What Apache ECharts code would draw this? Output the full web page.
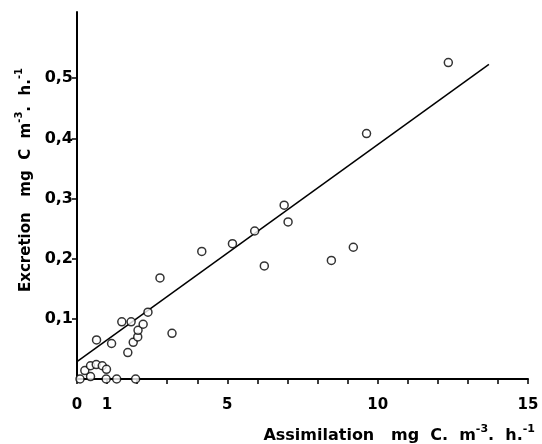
<!DOCTYPE html>
<html>
<head>
<meta charset="utf-8">
<script src="https://cdn.jsdelivr.net/npm/echarts@6/dist/echarts.min.js"></script>
<style>
  html, body { margin: 0; padding: 0; background: #fff; }
  #chart { width: 542px; height: 444px; }
</style>
</head>
<body>
<div id="chart"></div>
<script>
// observations (assimilation, excretion)
var assimilation = [0.1, 0.97, 1.32, 1.95, 0.45, 0.26, 0.45, 0.64, 0.84, 0.98,
  0.65, 1.15, 1.69, 1.87, 2.02, 2.03, 2.2, 1.49, 1.8, 2.36,
  3.16, 2.76, 4.15, 5.17, 5.91, 6.89, 7.02, 6.23, 8.46, 9.19, 9.63, 12.35];
var excretion = [0, 0, 0, 0, 0.004, 0.014, 0.022, 0.024, 0.022, 0.016,
  0.065, 0.059, 0.044, 0.061, 0.07, 0.081, 0.091, 0.095, 0.095, 0.111,
  0.076, 0.168, 0.212, 0.225, 0.246, 0.289, 0.261, 0.188, 0.197, 0.219, 0.408, 0.526];

// regression line end points
var fitX = [0, 13.7];
var fitY = [0.029, 0.523];

var xTickLabels = [0, 1, 5, 10, 15];
var xTicks = [0, 1, 2, 3, 4, 5, 6, 7, 8, 9, 10, 11, 12, 13, 14, 15];
var yTickLabels = [0.1, 0.2, 0.3, 0.4, 0.5];

var points = assimilation.map(function (x, i) { return [x, excretion[i]]; });
var fitLine = fitX.map(function (x, i) { return [x, fitY[i]]; });

var chart = echarts.init(document.getElementById('chart'));

var nameRich = {
    b: { fontFamily: 'DejaVu Sans', fontWeight: 'bold', fontSize: 15, color: '#000', lineHeight: 20, verticalAlign: 'bottom' },
    sup: { fontFamily: 'DejaVu Sans', fontWeight: 'bold', fontSize: 10, color: '#000', lineHeight: 20, verticalAlign: 'top' },
    bx: { fontFamily: 'DejaVu Sans', fontWeight: 'bold', fontSize: 16, color: '#000', lineHeight: 20, verticalAlign: 'bottom' },
    supx: { fontFamily: 'DejaVu Sans', fontWeight: 'bold', fontSize: 11, color: '#000', lineHeight: 20, verticalAlign: 'top' }
};

chart.setOption({
    animation: false,
    grid: { left: 77, right: 14, top: 12, bottom: 65 },
    xAxis: {
        type: 'value',
        min: 0,
        max: 15,
        interval: 1,
        splitLine: { show: false },
        axisLine: { lineStyle: { color: '#000', width: 2 } },
        axisTick: { length: 5, lineStyle: { color: '#000', width: 1.5 }, customValues: xTicks },
        axisLabel: {
            customValues: xTickLabels,
            margin: 19,
            color: '#000',
            fontFamily: 'DejaVu Sans',
            fontWeight: 'bold',
            fontSize: 15
        }
    },
    yAxis: {
        type: 'value',
        min: 0,
        max: 0.61,
        interval: 0.1,
        splitLine: { show: false },
        axisLine: { lineStyle: { color: '#000', width: 2 } },
        axisTick: { length: 5, lineStyle: { color: '#000', width: 1.5 }, customValues: yTickLabels },
        axisLabel: {
            customValues: yTickLabels,
            margin: 4,
            color: '#000',
            fontFamily: 'DejaVu Sans',
            fontWeight: 'bold',
            fontSize: 16,
            formatter: function (v) { return v.toFixed(1).replace('.', ','); }
        }
    },
    graphic: [{
        type: 'text',
        right: 7,
        top: 424,
        style: {
            text: '{bx|Assimilation   mg  C.  m}{supx|-3}{bx|.  h.}{supx|-1}',
            rich: nameRich
        }
    }, {
        type: 'text',
        x: 24,
        y: 180,
        rotation: Math.PI / 2,
        style: {
            text: '{b|Excretion   mg  C  m}{sup|-3}{b|.  h.}{sup|-1}',
            align: 'center',
            verticalAlign: 'middle',
            rich: nameRich
        }
    }],
    series: [{
        type: 'line',
        data: fitLine,
        symbol: 'none',
        lineStyle: { color: '#000', width: 1.5 },
        z: 1
    }, {
        type: 'scatter',
        data: points,
        symbol: 'circle',
        symbolSize: 8,
        itemStyle: { color: '#fff', borderColor: '#000', borderWidth: 1.5 },
        z: 2
    }]
});
</script>
</body>
</html>
